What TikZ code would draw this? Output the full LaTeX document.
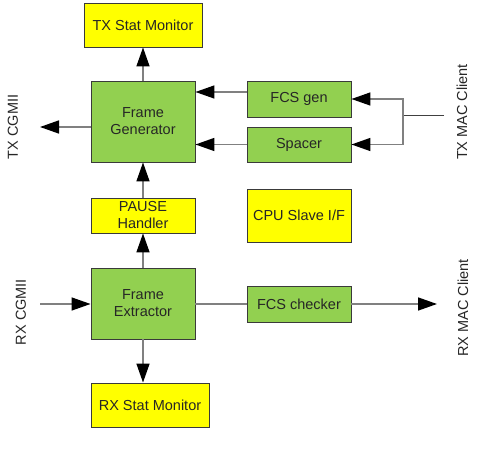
\documentclass[tikz,border=0pt]{standalone}
\usepackage{fontspec}
\setmainfont{Liberation Sans}
\usetikzlibrary{arrows.meta}
\definecolor{boxgreen}{HTML}{92D050}
\definecolor{boxyellow}{HTML}{FFFF00}
\definecolor{linegray}{HTML}{808080}
\definecolor{bordergray}{HTML}{3A3A3A}
\tikzset{
  blk/.style={draw=bordergray, line width=0.9pt, inner sep=0pt, align=center,
    font=\fontsize{14.5}{17}\selectfont, text=black!85},
  gblk/.style={blk, fill=boxgreen},
  yblk/.style={blk, fill=boxyellow},
  conn/.style={draw=linegray, line width=1.5pt, -{Triangle[length=19pt,width=13pt,color=black]}},
  plain/.style={draw=linegray, line width=1.5pt},
  lbl/.style={rotate=90, font=\fontsize{14.5}{17}\selectfont, text=black!85, inner sep=0pt}
}
\begin{document}
\begin{tikzpicture}[x=1pt,y=-1pt]
\useasboundingbox (0,0) rectangle (480,454);
% blocks
\node[yblk, minimum width=118pt, minimum height=44pt] (txstat) at (143,25) {TX Stat Monitor};
\node[gblk, minimum width=104pt, minimum height=81pt] (fg) at (143,121.5) {Frame\\Generator};
\node[yblk, minimum width=104pt, minimum height=35pt] (pause) at (143,215.5) {PAUSE\\Handler};
\node[gblk, minimum width=104pt, minimum height=71pt] (fe) at (143,303.5) {Frame\\Extractor};
\node[yblk, minimum width=118pt, minimum height=44pt] (rxstat) at (150,405) {RX Stat Monitor};
\node[gblk, minimum width=104pt, minimum height=36pt] (fcsgen) at (299,99) {FCS gen};
\node[gblk, minimum width=104pt, minimum height=35pt] (spacer) at (299,144.5) {Spacer};
\node[yblk, minimum width=104pt, minimum height=53pt] (cpu) at (299,215.5) {CPU Slave I/F};
\node[gblk, minimum width=104pt, minimum height=36pt] (fcschk) at (299,304) {FCS checker};
% labels
\node[lbl] (txcgmii) at (13,127) {TX CGMII};
\node[lbl] (rxcgmii) at (21,312) {RX CGMII};
\node[lbl] (txmac) at (462,112) {TX MAC Client};
\node[lbl] (rxmac) at (463,308) {RX MAC Client};
% coordinates
\coordinate (txout) at (40,127);
\coordinate (rxin) at (40,304);
\coordinate (fcsy) at (0,92);
\coordinate (j) at (403,116);
\coordinate (txm) at (444,116);
\coordinate (rxout) at (437,304);
% connectors
\draw[conn] (fg.north) -- (txstat.south);
\draw[conn] (pause.north) -- (fg.south);
\draw[conn] (fe.north) -- (pause.south);
\draw[conn] (fe.south) -- (fe.south |- rxstat.north);
\draw[conn] (fg.west |- txout) -- (txout);
\draw[conn] (rxin) -- (fe.west |- rxin);
\draw[conn] (fcsgen.west |- fcsy) -- (fg.east |- fcsy);
\draw[conn] (spacer.west) -- (fg.east |- spacer.west);
\draw[draw=black!75, line width=1pt] (txm) -- (j);
\draw[conn] (j) |- (fcsgen.east);
\draw[conn] (j) |- (spacer.east);
\draw[plain] (fe.east |- fcschk.west) -- (fcschk.west);
\draw[conn] (fcschk.east) -- (rxout);
\end{tikzpicture}
\end{document}
